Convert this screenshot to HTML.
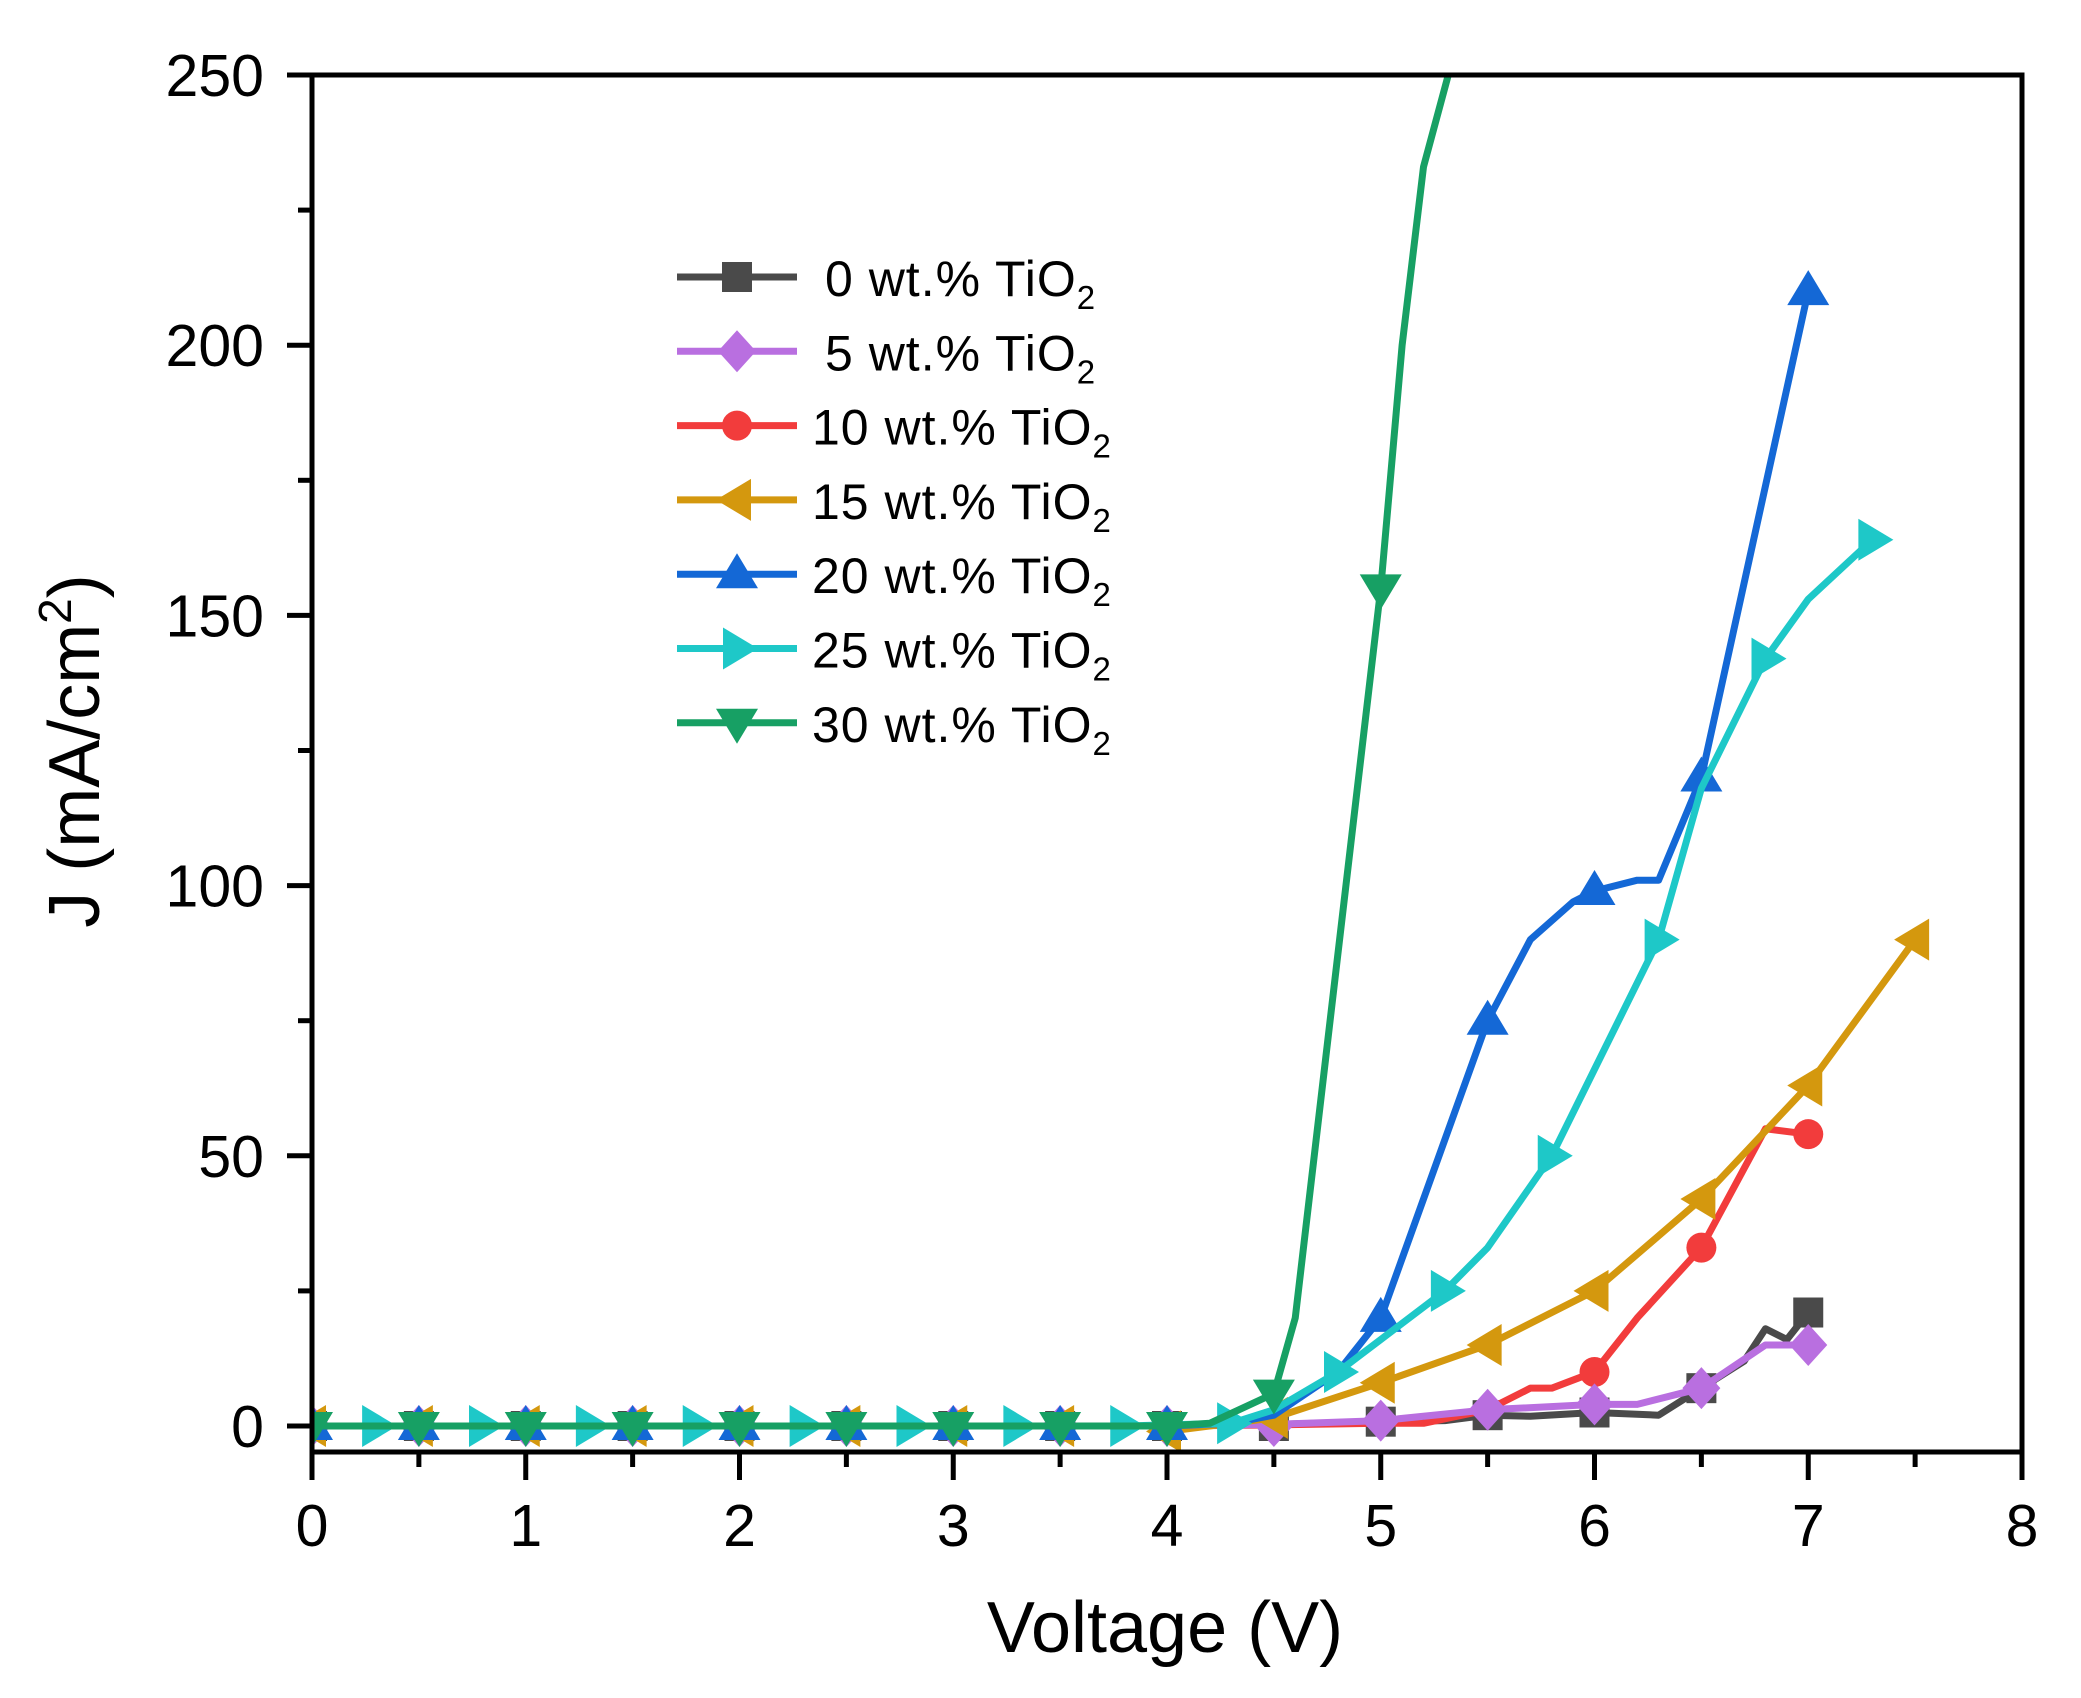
<!DOCTYPE html>
<html><head><meta charset="utf-8">
<style>
html,body{margin:0;padding:0;background:#fff;}
svg{display:block;}
text{font-family:"Liberation Sans",Arial,sans-serif;fill:#000;}
</style></head>
<body>
<svg id="s" width="2081" height="1698" viewBox="0 0 2081 1698" xmlns="http://www.w3.org/2000/svg">
<defs><clipPath id="c"><rect x="312" y="75" width="1710" height="1377"/></clipPath></defs>
<g id="data" clip-path="url(#c)"></g>
<g id="axes" stroke="#000" stroke-width="5" fill="none">
<rect x="312" y="75" width="1710" height="1377"/>
</g>
<g id="ticks" stroke="#000" stroke-width="5"></g>
<g id="labels" font-size="59"></g>
<text x="1165" y="1652" font-size="72" text-anchor="middle">Voltage (V)</text>
<text transform="translate(99,751) rotate(-90)" font-size="72" text-anchor="middle">J (mA/cm<tspan font-size="46" baseline-shift="28">2</tspan>)</text>
<g id="legend"></g>
</svg>
<script>
const NS="http://www.w3.org/2000/svg";
const X=v=>312+v*213.75, Y=v=>1426-v*5.404;
function el(p,t,a){const e=document.createElementNS(NS,t);for(const k in a)e.setAttribute(k,a[k]);p.appendChild(e);return e;}
const tk=document.getElementById('ticks'), lb=document.getElementById('labels');
for(let i=0;i<=16;i++){const x=X(i*0.5);el(tk,'line',{x1:x,y1:1452,x2:x,y2:i%2?1467:1480});
 if(i%2==0){const t=el(lb,'text',{x:x,y:1546,'text-anchor':'middle'});t.textContent=i/2;}}
for(let i=0;i<=10;i++){const y=Y(i*25);el(tk,'line',{x1:312,y1:y,x2:i%2?298:287,y2:y});
 if(i%2==0){const t=el(lb,'text',{x:264,y:y+21,'text-anchor':'end'});t.textContent=i*25;}}
function mk(p,type,x,y,c){
 if(type=='sq')el(p,'rect',{x:x-15,y:y-15,width:30,height:30,fill:c});
 else if(type=='di')el(p,'polygon',{points:`${x},${y-21} ${x+19},${y} ${x},${y+21} ${x-19},${y}`,fill:c});
 else if(type=='ci')el(p,'circle',{cx:x,cy:y,r:15,fill:c});
 else if(type=='tl')el(p,'polygon',{points:`${x-21},${y} ${x+14},${y-21} ${x+14},${y+21}`,fill:c});
 else if(type=='tr')el(p,'polygon',{points:`${x+21},${y} ${x-14},${y-21} ${x-14},${y+21}`,fill:c});
 else if(type=='tu')el(p,'polygon',{points:`${x},${y-21} ${x+21},${y+14} ${x-21},${y+14}`,fill:c});
 else if(type=='td')el(p,'polygon',{points:`${x},${y+21} ${x+21},${y-14} ${x-21},${y-14}`,fill:c});
}
const base=[];for(let i=0;i<=8;i++)base.push([i*0.5,0]);
const S=[
 {c:'#4a4a4a',m:'sq',l:base.concat([[4.5,0.3],[5,0.8],[5.3,1],[5.5,2],[5.7,1.8],[6,2.5],[6.3,2],[6.5,7],[6.7,12],[6.8,18],[6.9,16],[7,21]]),
  mk:[0,0.5,1,1.5,2,2.5,3,3.5,4,4.5,5,5.5,6,6.5,7],mv:{5:0.8,5.5:2,6:2.5,6.5:7,7:21}},
 {c:'#f23c3c',m:'ci',l:base.concat([[4.5,0.2],[5,0.5],[5.2,0.5],[5.5,3],[5.7,7],[5.8,7],[6,10],[6.2,20],[6.5,33],[6.8,55],[7,54]]),
  mk:[0,0.5,1,1.5,2,2.5,3,3.5,4,6,6.5,7],mv:{6:10,6.5:33,7:54}},
 {c:'#b96fe0',m:'di',l:base.concat([[4.5,0.3],[5,1],[5.5,3],[6,4],[6.2,4],[6.5,7],[6.8,15],[7,15]]),
  mk:[0,0.5,1,1.5,2,2.5,3,3.5,4,4.5,5,5.5,6,6.5,7],mv:{5:1,5.5:3,6:4,6.5:7,7:15}},
 {c:'#d4980e',m:'tl',l:base.concat([[4,-1],[4.5,1.5],[5,8],[5.5,15],[6,25],[6.5,42],[7,63],[7.5,90]]),
  mk:[0,0.5,1,1.5,2,2.5,3,3.5,4,4.5,5,5.5,6,6.5,7,7.5],mv:{4:-1,4.5:1.5,5:8,5.5:15,6:25,6.5:42,7:63,7.5:90}},
 {c:'#1468d6',m:'tu',l:base.concat([[4.3,0.5],[4.5,2],[4.8,10],[5,20],[5.5,75],[5.7,90],[5.9,97],[6,99],[6.2,101],[6.3,101],[6.5,120],[7,210]]),
  mk:[0,0.5,1,1.5,2,2.5,3,3.5,4,5,5.5,6,6.5,7],mv:{5:20,5.5:75,6:99,6.5:120,7:210}},
 {c:'#1ec8c8',m:'tr',l:[[0.3,0],[3.8,0],[4.3,0.5],[4.5,3],[4.8,10],[5,16],[5.3,25],[5.5,33],[5.8,50],[6,66],[6.3,90],[6.5,118],[6.8,142],[7,153],[7.3,164]],
  mk:[0.3,0.8,1.3,1.8,2.3,2.8,3.3,3.8,4.3,4.8,5.3,5.8,6.3,6.8,7.3],mv:{4.3:0.5,4.8:10,5.3:25,5.8:50,6.3:90,6.8:142,7.3:164}},
 {c:'#17a064',m:'td',l:base.concat([[4.2,0.5],[4.5,6],[4.6,20],[5,155],[5.1,200],[5.2,233],[5.35,255]]),
  mk:[0,0.5,1,1.5,2,2.5,3,3.5,4,4.5,5],mv:{4.5:6,5:155}}
];
const dg=document.getElementById('data');
S.forEach(s=>{
 el(dg,'polyline',{points:s.l.map(p=>X(p[0])+','+Y(p[1])).join(' '),fill:'none',stroke:s.c,'stroke-width':7,'stroke-linejoin':'round'});
 s.mk.forEach(x=>mk(dg,s.m,X(x),Y(s.mv[x]||0),s.c));
});
const lg=document.getElementById('legend');
const order=[0,2,1,3,4,5,6];
const names=['0','5','10','15','20','25','30'];
order.forEach((k,i)=>{
 const s=S[k];
 const y=277+i*74.3;
 el(lg,'line',{x1:677,y1:y,x2:797,y2:y,stroke:s.c,'stroke-width':7});
 mk(lg,s.m,737,y,s.c);
 const t=el(lg,'text',{x:names[i].length>1?812:825,y:y+19,'font-size':50,'letter-spacing':1});
 t.textContent=names[i]+' wt.% TiO';
 const ts=el(t,'tspan',{'font-size':33,dy:13});ts.textContent='2';
});
</script>
</body></html>
